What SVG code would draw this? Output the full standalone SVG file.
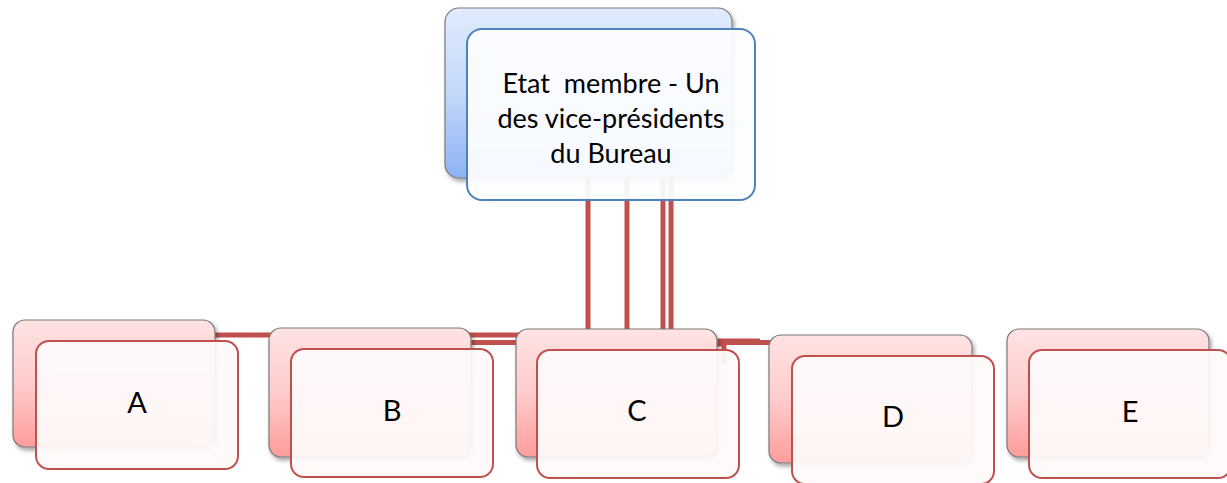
<svg xmlns="http://www.w3.org/2000/svg" width="1227" height="483" viewBox="0 0 1227 483">
  <defs>
    <linearGradient id="gRed" x1="0" y1="0" x2="0" y2="1">
      <stop offset="0" stop-color="#ffe3e3"/>
      <stop offset="0.5" stop-color="#ffcccc"/>
      <stop offset="1" stop-color="#ff9c9c"/>
    </linearGradient>
    <linearGradient id="gBlue" x1="0" y1="0" x2="0" y2="1">
      <stop offset="0" stop-color="#e0ebfc"/>
      <stop offset="0.5" stop-color="#c4d8fa"/>
      <stop offset="1" stop-color="#8db2f4"/>
    </linearGradient>
    <filter id="sh" x="-10%" y="-10%" width="130%" height="130%">
      <feDropShadow dx="2" dy="3" stdDeviation="2" flood-color="#000" flood-opacity="0.35"/>
    </filter>
  </defs>
  <style>
    .backR { fill: url(#gRed); stroke: #7a7a7a; stroke-width: 1.2; filter: url(#sh); }
    .backB { fill: url(#gBlue); stroke: #7a7a7a; stroke-width: 1.2; filter: url(#sh); }
    .frontR { fill: #fffafa; fill-opacity: 0.94; stroke: #c0504d; stroke-width: 2; }
    .frontB { fill: #fcfdff; fill-opacity: 0.94; stroke: #4f81bd; stroke-width: 2; }
    .conn { stroke: #c0504d; stroke-width: 5; fill: none; }
    text { font-family: Lato, "Open Sans", "Liberation Sans", sans-serif; fill: #000; text-anchor: middle; white-space: pre; }
    .t1 { font-size: 27px; }
    .t2 { font-size: 29px; }
  </style>
  <rect width="1227" height="483" fill="#ffffff"/>
  <g id="connectors">
    <line class="conn" x1="588" y1="178" x2="588" y2="330"/>
    <line class="conn" x1="627" y1="178" x2="627" y2="330"/>
    <line class="conn" x1="663" y1="178" x2="663" y2="330"/>
    <line class="conn" x1="671" y1="178" x2="671" y2="330"/>
    <line class="conn" x1="200" y1="335" x2="560" y2="335"/>
    <line class="conn" x1="460" y1="342.5" x2="560" y2="342.5"/>
    <line class="conn" x1="680" y1="342.5" x2="780" y2="342.5"/>
    <line class="conn" x1="680" y1="341" x2="760" y2="341"/>
    <polyline class="conn" points="700,344 724,344 724,363"/>
  </g>
  <g id="node-top">
    <rect class="backB" x="445" y="8" width="287" height="170" rx="14"/>
    <rect class="frontB" x="467" y="29" width="288" height="171" rx="15"/>
    <text class="t1" x="611" y="93">Etat  membre - Un</text>
    <text class="t1" x="611" y="128">des vice-présidents</text>
    <text class="t1" x="611" y="163">du Bureau</text>
  </g>
  <g id="node-a">
    <rect class="backR" x="13" y="320" width="202" height="127" rx="12"/>
    <rect class="frontR" x="36" y="341" width="202" height="128" rx="13"/>
    <text class="t2" x="137" y="413">A</text>
  </g>
  <g id="node-b">
    <rect class="backR" x="269" y="328" width="202" height="129" rx="12"/>
    <rect class="frontR" x="291" y="349" width="202" height="128" rx="13"/>
    <text class="t2" x="392" y="421">B</text>
  </g>
  <g id="node-c">
    <rect class="backR" x="516" y="329" width="201" height="128" rx="12"/>
    <rect class="frontR" x="537" y="350" width="202" height="128" rx="13"/>
    <text class="t2" x="637" y="421">C</text>
  </g>
  <g id="node-d">
    <rect class="backR" x="769" y="335" width="203" height="128" rx="12"/>
    <rect class="frontR" x="792" y="356" width="202" height="128" rx="13"/>
    <text class="t2" x="893" y="427">D</text>
  </g>
  <g id="node-e">
    <rect class="backR" x="1007" y="329" width="202" height="128" rx="12"/>
    <rect class="frontR" x="1029" y="350" width="202" height="128" rx="13"/>
    <text class="t2" x="1130" y="422">E</text>
  </g>
</svg>
